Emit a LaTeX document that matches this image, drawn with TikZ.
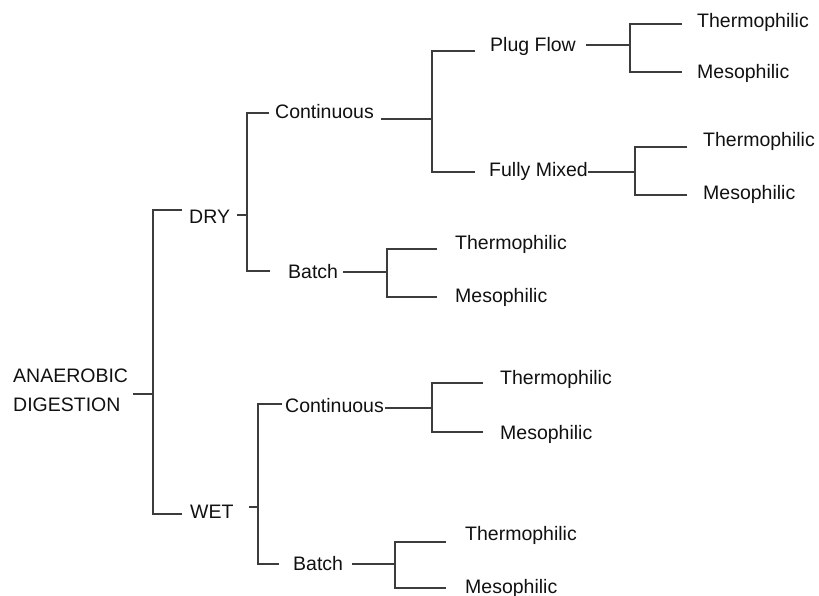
\documentclass[tikz,border=0pt]{standalone}
\usepackage{fontspec}
\setmainfont{Liberation Sans}
\definecolor{linegray}{HTML}{3C3C3C}
\definecolor{txt}{HTML}{111111}
\begin{document}
\begin{tikzpicture}[x=1pt,y=-1pt,
  lbl/.style={anchor=base west,inner sep=0pt,text=txt,font=\fontsize{19.5}{29}\selectfont},
  conn/.style={draw=linegray,line width=1.3pt}]
\useasboundingbox (0,0) rectangle (819,596);
\fill[white] (0,0) rectangle (819,596);
% labels
\node[lbl,align=left] (root) at (13,411) {ANAEROBIC\\DIGESTION};
\node[lbl] (dry) at (189,224) {DRY};
\node[lbl] (wet) at (190,518) {WET};
\node[lbl] (dcont) at (275,119) {Continuous};
\node[lbl] (dbatch) at (288,278) {Batch};
\node[lbl] (plug) at (490,52) {Plug Flow};
\node[lbl] (mixed) at (489,177) {Fully Mixed};
\node[lbl] (pt) at (697,28) {Thermophilic};
\node[lbl] (pm) at (697,79) {Mesophilic};
\node[lbl] (mt) at (703,147) {Thermophilic};
\node[lbl] (mm) at (703,200) {Mesophilic};
\node[lbl] (dbt) at (455,249) {Thermophilic};
\node[lbl] (dbm) at (455,302) {Mesophilic};
\node[lbl] (wcont) at (285,412) {Continuous};
\node[lbl] (wbatch) at (293,570) {Batch};
\node[lbl] (wct) at (500,384) {Thermophilic};
\node[lbl] (wcm) at (500,439) {Mesophilic};
\node[lbl] (wbt) at (465,540) {Thermophilic};
\node[lbl] (wbm) at (465,593) {Mesophilic};
% connector end points
\coordinate (r0) at (133,394); \coordinate (rj) at (153,394);
\coordinate (rdry) at (182,210); \coordinate (rwet) at (182,514);
\coordinate (d0) at (237,215); \coordinate (dj) at (247,215);
\coordinate (dc) at (269,113); \coordinate (db) at (270,271);
\coordinate (c0) at (381,119); \coordinate (cj) at (432,119);
\coordinate (cp) at (475,51); \coordinate (cm) at (475,172);
\coordinate (p0) at (586,45); \coordinate (pj) at (630,45);
\coordinate (p1) at (682,24); \coordinate (p2) at (682,72);
\coordinate (m0) at (588,172); \coordinate (mj) at (635,172);
\coordinate (m1) at (687,147); \coordinate (m2) at (687,195);
\coordinate (b0) at (343,272); \coordinate (bj) at (387,272);
\coordinate (b1) at (437,249); \coordinate (b2) at (437,297);
\coordinate (w0) at (249,507); \coordinate (wj) at (258,507);
\coordinate (wc) at (282,404); \coordinate (wb) at (279,564);
\coordinate (k0) at (385,408); \coordinate (kj) at (432,408);
\coordinate (k1) at (483,383); \coordinate (k2) at (483,432);
\coordinate (q0) at (352,564); \coordinate (qj) at (395,564);
\coordinate (q1) at (446,542); \coordinate (q2) at (446,588);
% connectors
\draw[conn] (r0) -- (rj);
\draw[conn] (rdry) -| (rj) |- (rwet);
\draw[conn] (d0) -- (dj);
\draw[conn] (dc) -| (dj) |- (db);
\draw[conn] (c0) -- (cj);
\draw[conn] (cp) -| (cj) |- (cm);
\draw[conn] (p0) -- (pj);
\draw[conn] (p1) -| (pj) |- (p2);
\draw[conn] (m0) -- (mj);
\draw[conn] (m1) -| (mj) |- (m2);
\draw[conn] (b0) -- (bj);
\draw[conn] (b1) -| (bj) |- (b2);
\draw[conn] (w0) -- (wj);
\draw[conn] (wc) -| (wj) |- (wb);
\draw[conn] (k0) -- (kj);
\draw[conn] (k1) -| (kj) |- (k2);
\draw[conn] (q0) -- (qj);
\draw[conn] (q1) -| (qj) |- (q2);
\end{tikzpicture}
\end{document}
